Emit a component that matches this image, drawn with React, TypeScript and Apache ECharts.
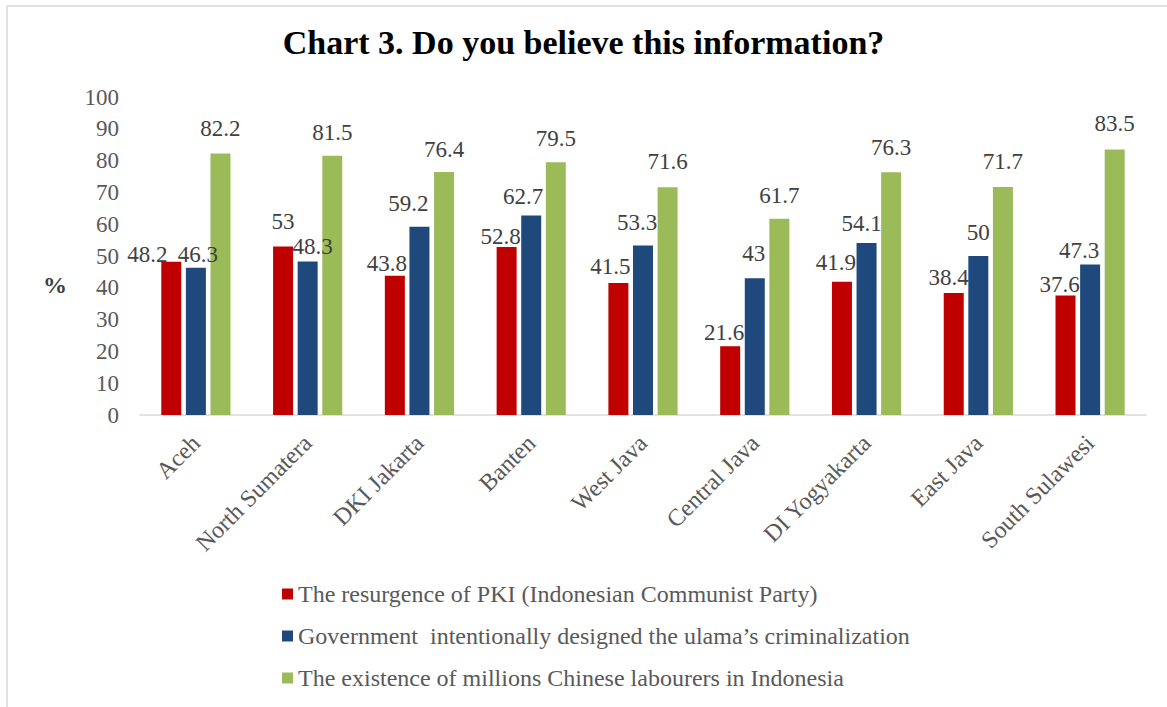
import React, { useEffect, useRef } from "react";
import * as echarts from "echarts";

const categories = [
  "Aceh",
  "North Sumatera",
  "DKI Jakarta",
  "Banten",
  "West Java",
  "Central Java",
  "DI Yogyakarta",
  "East Java",
  "South Sulawesi",
];

const seriesNames = [
  "The resurgence of PKI (Indonesian Communist Party)",
  "Government  intentionally designed the ulama\u2019s criminalization",
  "The existence of millions Chinese labourers in Indonesia",
];

const pkiValues = [48.2, 53, 43.8, 52.8, 41.5, 21.6, 41.9, 38.4, 37.6];
const ulamaValues = [46.3, 48.3, 59.2, 62.7, 53.3, 43, 54.1, 50, 47.3];
const chineseValues = [82.2, 81.5, 76.4, 79.5, 71.6, 61.7, 76.3, 71.7, 83.5];

const colors = ["#C00000", "#1F497D", "#9BBB59"];

const SERIF = "Liberation Serif";

export default function App() {
  const ref = useRef<HTMLDivElement>(null);

  useEffect(() => {
    if (!ref.current) return;
    const chart = echarts.init(ref.current, undefined, { renderer: "svg" });
    const values = [pkiValues, ulamaValues, chineseValues];
    // label nudges (layout only) to mimic the hand-placed labels of the original
    const nudges: number[][][] = [
      [[-24, 17], [0, 0], [-8, 12], [-6, 14], [-8, 8], [-6, 11], [-6, 5], [-5, 9], [-6, 14]],
      [[2, 11], [5, 10], [-11, 1], [-8, 5], [-6, 1], [-1, 0], [-5, 5], [0, 1], [-11, 10]],
      [[0, -1], [0, 1], [0, 2], [0, 1], [0, -1], [0, 1], [0, 0], [0, -1], [0, -1]],
    ];
    const option = {
      animation: false,
      backgroundColor: "#ffffff",
      title: {
        text: "Chart 3. Do you believe this information?",
        left: "center",
        top: 20,
        textStyle: {
          fontFamily: SERIF,
          fontWeight: "bold",
          fontSize: 34,
          color: "#000000",
        },
      },
      graphic: [
        {
          type: "rect",
          shape: { x: 7, y: 6, width: 1200, height: 800 },
          style: { fill: "none", stroke: "#D9D9D9", lineWidth: 1.5 },
          silent: true,
        },
        {
          type: "text",
          x: 55,
          y: 285,
          style: {
            text: "%",
            fontFamily: SERIF,
            fontWeight: "bold",
            fontSize: 24,
            fill: "#404040",
            textAlign: "center",
            textVerticalAlign: "middle",
          },
        },
      ],
      legend: {
        orient: "vertical",
        left: 282,
        top: 582,
        padding: 0,
        itemWidth: 11,
        itemHeight: 11,
        itemGap: 18,
        icon: "rect",
        data: seriesNames,
        textStyle: {
          fontFamily: SERIF,
          fontSize: 24,
          color: "#595959",
        },
      },
      grid: {
        left: 140,
        right: 21,
        top: 97,
        bottom: 292,
        containLabel: false,
      },
      xAxis: {
        type: "category",
        data: categories,
        axisLine: { show: true, lineStyle: { color: "#D9D9D9", width: 1.5 } },
        axisTick: { show: false },
        axisLabel: {
          rotate: 45,
          margin: 24,
          interval: 0,
          fontFamily: SERIF,
          fontSize: 24,
          color: "#595959",
        },
      },
      yAxis: {
        type: "value",
        min: 0,
        max: 100,
        interval: 10,
        axisLine: { show: false },
        axisTick: { show: false },
        splitLine: { show: false },
        axisLabel: {
          margin: 21,
          fontFamily: SERIF,
          fontSize: 23,
          color: "#595959",
        },
      },
      series: seriesNames.map((name, i) => ({
        name,
        type: "bar",
        data: values[i].map((v, j) => ({
          value: v,
          label: { offset: nudges[i][j] },
        })),
        barWidth: 20,
        barGap: "23%",
        itemStyle: { color: colors[i] },
        label: {
          show: true,
          position: "top",
          distance: 13,
          fontFamily: SERIF,
          fontSize: 23,
          color: "#404040",
        },
      })),
    };
    chart.setOption(option);
    return () => chart.dispose();
  }, []);

  return (
    <div
      ref={ref}
      style={{ position: "fixed", left: 0, top: 0, width: 1167, height: 707 }}
    />
  );
}
